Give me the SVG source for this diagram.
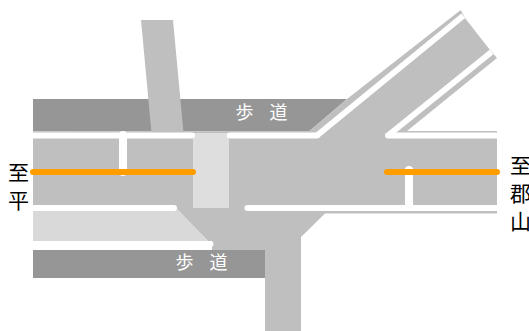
<svg xmlns="http://www.w3.org/2000/svg" width="529" height="331" viewBox="0 0 529 331">
<style>
.road{fill:#bfbfbf}
.walk{fill:#969696}
.light{fill:#d9d9d9}
.cross{fill:#dedede}
.w{stroke:#fff;stroke-width:6;stroke-linecap:round;fill:none}
.d{stroke:#fff;stroke-width:6;stroke-linecap:butt;fill:none}
.st{stroke:#fff;stroke-width:8;stroke-linecap:round;fill:none}
.o{stroke:#ff9c00;stroke-width:6;stroke-linecap:round;fill:none}
text{font-family:"Noto Sans CJK JP","Noto Sans",sans-serif}
.t{font-size:21px;fill:#000}
.s{font-size:18px;fill:#fff}
</style>
<defs><clipPath id="c"><rect x="33" y="0" width="464" height="331"/></clipPath></defs>
<g id="sidewalks">
<polygon class="walk" points="33,99 347,99 309,131.500 33,131.500"/>
<rect class="walk" x="33" y="250" width="232" height="28"/>
</g>
<g id="roads">
<polygon class="road" points="141,20 173,20 183.500,133 151.500,133"/>
<polygon class="road" points="33,132 309,131.500 347,99 460.700,10 465,18 490,50 497,58 407,131 497,131 497,213.500 325,213.500 301,237 301,331 265,331 265,250 212,250 212,241 208,241 176,208 33,208"/>
<polygon class="light" points="33,208 176,208 208,241 212,244 33,244"/>
<rect class="cross" x="193" y="133" width="36" height="75"/>
</g>
<g id="connectors" clip-path="url(#c)">
<path class="w" d="M30 135.500H192M229.700 135.500H317"/>
<path class="d" d="M317 135.500L463.300 15.700"/>
<path class="w" d="M500 135.500H388"/>
<path class="d" d="M388 135.500L491.500 52"/>
<path class="w" d="M30 208H174M247.500 208H500M30 244H210.500"/>
<path class="st" d="M123 135V172"/>
<path class="st" d="M409 170V206"/>
</g>
<g id="routes">
<path class="o" d="M33 172H193M387 172H497"/>
</g>
<g id="label-left">
<text class="t" x="8" y="180">至</text>
<text class="t" x="8" y="208">平</text>
</g>
<g id="label-right">
<text class="t" x="510" y="173">至</text>
<text class="t" x="510" y="201">郡</text>
<text class="t" x="510" y="229">山</text>
</g>
<g id="label-walk-top">
<text class="s" x="235.500" y="119">歩</text>
<text class="s" x="269.500" y="119">道</text>
</g>
<g id="label-walk-bottom">
<text class="s" x="175.500" y="269">歩</text>
<text class="s" x="209.500" y="269">道</text>
</g>
</svg>
